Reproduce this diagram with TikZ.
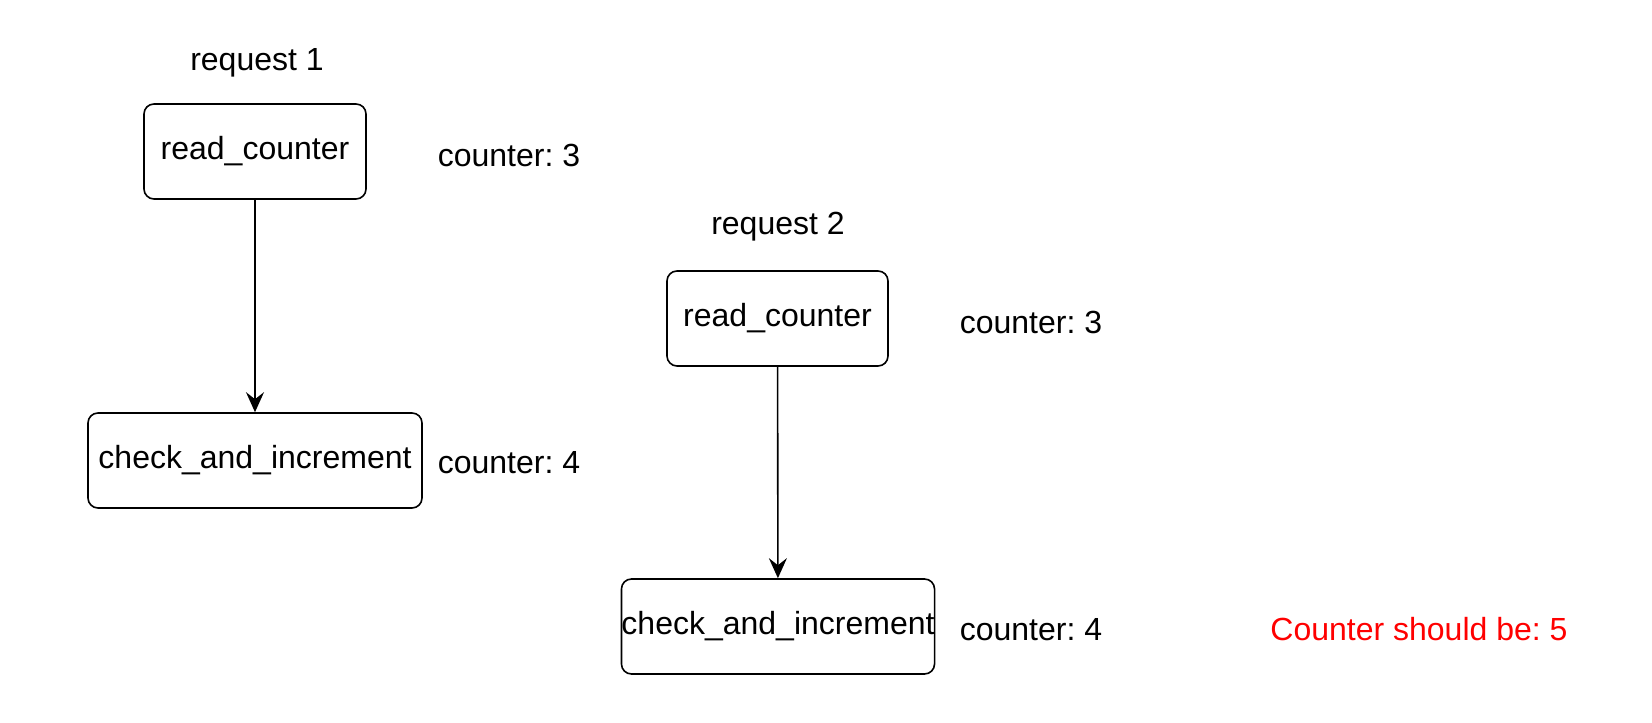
\documentclass[tikz,border=0pt]{standalone}
\usepackage{fontspec}
\setmainfont{Liberation Sans}
\usetikzlibrary{arrows.meta}
\frenchspacing

\begin{document}
\begin{tikzpicture}[x=0.5pt, y=0.5pt,
        box/.style={draw, rounded corners=5pt, line width=0.8pt, minimum height=47.5pt, inner sep=0pt},
        lbl/.style={inner sep=0pt},
        flow/.style={line width=0.8pt, -{Stealth[length=10pt, width=9pt, inset=3.5pt]}}]
        \useasboundingbox (0,0) rectangle (1652, 722);
        \fontsize{16pt}{19pt}\selectfont
        \node (req1) at (257, 659) [lbl] {request 1};
        \node (read1) at (255, 570.5) [box, minimum width=111pt] {read\_counter};
        \node (check1) at (255, 261.5) [box, minimum width=167pt] {check\_and\_increment};
        \node (cnt1a) at (509, 567) [lbl] {counter: 3};
        \node (cnt1b) at (509, 259) [lbl] {counter: 4};
        \node (req2) at (778, 495) [lbl] {request 2};
        \node (read2) at (777.5, 403.5) [box, minimum width=110.5pt] {read\_counter};
        \node (check2) at (778, 95.5) [box, minimum width=155pt] {check\_and\_increment};
        \node (cnt2a) at (1031, 400) [lbl] {counter: 3};
        \node (cnt2b) at (1031, 92) [lbl] {counter: 4};
        \node (should) at (1419, 93) [lbl, text=red] {Counter should be: 5};
        \draw [flow] (read1) -- (check1);
        \draw [flow] (read2) -- (check2);
    \end{tikzpicture}
\end{document}
